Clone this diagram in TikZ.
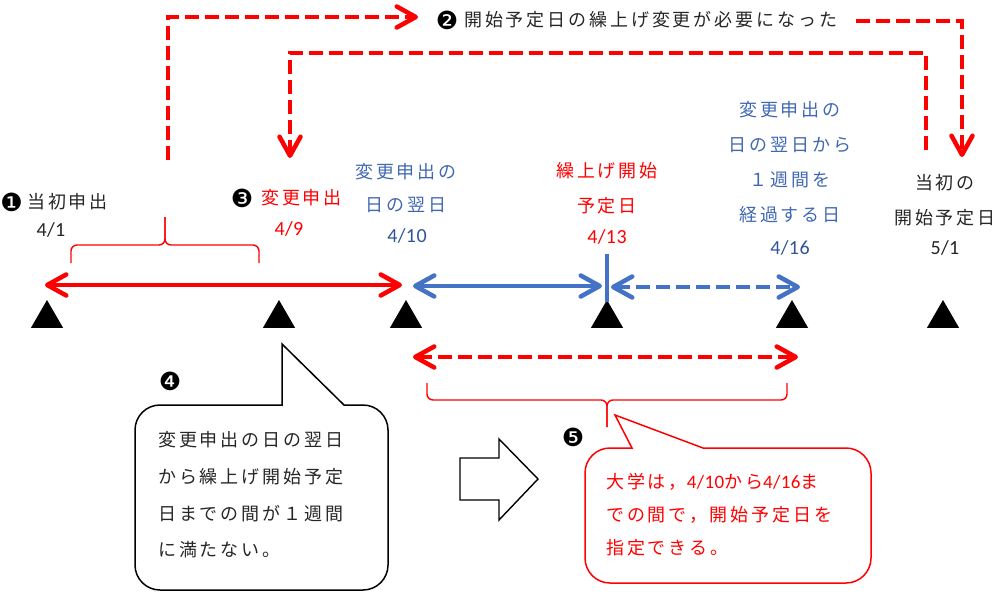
\documentclass[tikz,border=0pt]{standalone}
\usepackage{fontspec}
\usetikzlibrary{arrows.meta,shapes.geometric}
\newfontfamily\jp{Noto Sans CJK JP}[LetterSpace=16]
\newfontfamily\lat{Carlito}[LetterSpace=2]
\newfontfamily\dv{DejaVu Sans}
\definecolor{myred}{HTML}{FF0000}
\definecolor{myblue}{HTML}{4472C4}
\definecolor{bluetxt}{HTML}{4068B2}
\definecolor{bluedate}{HTML}{2F5597}
\definecolor{txt}{HTML}{262626}
\newcommand\dg[1]{{\lat\fontsize{19}{33}\selectfont #1}}
\begin{document}
\begin{tikzpicture}[x=1pt,y=-1pt,
  >={Straight Barb[length=19pt,width=21pt,round]},
  tri/.style={regular polygon,regular polygon sides=3,minimum size=37pt,fill=black,inner sep=0pt,outer sep=0pt},
  jtext/.style={font=\jp\fontsize{18}{35}\selectfont,inner sep=0pt,align=center},
  dtext/.style={font=\lat\fontsize{20}{23}\selectfont,inner sep=0pt},
  num/.style={font=\dv\fontsize{25}{28}\selectfont,inner sep=0pt,text=black},
  redl/.style={draw=myred,line width=4.5pt},
  bluel/.style={draw=myblue,line width=4.5pt},
  dsh/.style={dash pattern=on 14pt off 6pt},
  brace/.style={draw=myred,line width=1.4pt,rounded corners=6pt},
  callout/.style={line width=1.5pt,fill=white}]
\useasboundingbox (0,0) rectangle (1005,598);

% triangles
\node[tri] (ta) at (47,318.5) {};
\node[tri] (tb) at (279,318.5) {};
\node[tri] (tc) at (406,318.5) {};
\node[tri] (td) at (607,318.5) {};
\node[tri] (te) at (792,318.5) {};
\node[tri] (tf) at (943,318.5) {};

% labels
\node[num] (n1) at (11.5,202) {❶};
\node[jtext,anchor=west,text=txt] (l1) at (27,202) {当初申出};
\node[dtext,text=txt] (d1) at (51,230) {4/1};
\node[num] (n3) at (242,198) {❸};
\node[jtext,anchor=west,text=myred] (l2) at (261,198) {変更申出};
\node[dtext,text=myred] (d2) at (289,229) {4/9};
\node[jtext,text=bluetxt,font=\jp\fontsize{18}{33}\selectfont] (l3) at (406,188) {変更申出の\\日の翌日};
\node[dtext,text=bluedate] (d3) at (407,236) {4/10};
\node[jtext,text=myred] (l4) at (607,188) {繰上げ開始\\予定日};
\node[dtext,text=myred] (d4) at (607,237) {4/13};
\node[jtext,text=bluetxt] (l5) at (790,162.5) {変更申出の\\日の翌日から\\１週間を\\経過する日};
\node[dtext,text=bluedate] (d5) at (790,248) {4/16};
\node[jtext,text=txt] (l6) at (945,200) {当初の\\開始予定日};
\node[dtext,text=txt] (d6) at (945,248) {5/1};
\node[num] (n2) at (447,20) {❷};
\node[jtext,anchor=west,text=txt] (l7) at (464,20) {開始予定日の繰上げ変更が必要になった};

% red dashed routing arrows
\coordinate (a1) at (168,160); \coordinate (a2) at (168,17); \coordinate (a3) at (418,17);
\draw[redl,dsh,->] (a1) -- (a2) -- (a3);
\coordinate (b1) at (926,150); \coordinate (b2) at (926,53); \coordinate (b3) at (290,53); \coordinate (b4) at (290,158);
\draw[redl,dsh,->] (b1) -- (b2) -- (b3) -- (b4);
\coordinate (c1) at (856,21); \coordinate (c2) at (962,21); \coordinate (c3) at (962,157);
\draw[redl,dsh,->] (c1) -- (c2) -- (c3);

% upper brace
\draw[brace] (71,263) -- (71,245) -- (165,245) -- (165,217);
\draw[brace] (259,263) -- (259,245) -- (165,245) -- (165,217);

% timeline arrows
\coordinate (rs1) at (45,285); \coordinate (rs2) at (402,285);
\draw[redl,<->] (rs1) -- (rs2);
\coordinate (bs1) at (413,286); \coordinate (bs2) at (602,286);
\draw[bluel,<->] (bs1) -- (bs2);
\coordinate (tk1) at (607,254); \coordinate (tk2) at (607,302);
\draw[draw=myblue,line width=3.5pt] (tk1) -- (tk2);
\coordinate (bd1) at (611,287); \coordinate (bd2) at (800,287);
\draw[bluel,dsh,<->] (bd1) -- (bd2);
\coordinate (rd1) at (413,357); \coordinate (rd2) at (798,357);
\draw[redl,dsh,<->] (rd1) -- (rd2);

% lower brace
\draw[brace] (427,383) -- (427,400) -- (607,400) -- (607,427);
\draw[brace] (787,383) -- (787,400) -- (607,400) -- (607,427);

% callout 4
\node[num] (n4) at (170,381) {❹};
\draw[callout,draw=black] (282,344) -- (282,405) -- (160,405)
  .. controls (146.2,405) and (135,416.2) .. (135,430) -- (135,565)
  .. controls (135,578.8) and (146.2,590) .. (160,590) -- (363,590)
  .. controls (376.8,590) and (388,578.8) .. (388,565) -- (388,430)
  .. controls (388,416.2) and (376.8,405) .. (363,405) -- (344,405) -- cycle;
\node[jtext,align=left,anchor=west,text=txt,font=\jp\fontsize{18}{36.7}\selectfont] (t4) at (158,495) {変更申出の日の翌日\\から繰上げ開始予定\\日までの間が１週間\\に満たない。};

% block arrow
\draw[line width=1.4pt,fill=white] (460,458) -- (499,458) -- (499,439) -- (538,479) -- (499,520) -- (499,500) -- (460,500) -- cycle;

% callout 5
\node[num] (n5) at (573,437) {❺};
\draw[callout,draw=myred] (615,415) -- (703,448) -- (846,448)
  .. controls (859.8,448) and (871,459.2) .. (871,473) -- (871,558)
  .. controls (871,571.8) and (859.8,583) .. (846,583) -- (610,583)
  .. controls (596.2,583) and (585,571.8) .. (585,558) -- (585,473)
  .. controls (585,459.2) and (596.2,448) .. (610,448) -- (632,448) -- cycle;
\node[jtext,align=left,anchor=west,text=myred,font=\jp\fontsize{18}{33}\selectfont] (t5) at (606,515) {大学は，\dg{4/10}から\dg{4/16}ま\\での間で，開始予定日を\\指定できる。};
\end{tikzpicture}
\end{document}
